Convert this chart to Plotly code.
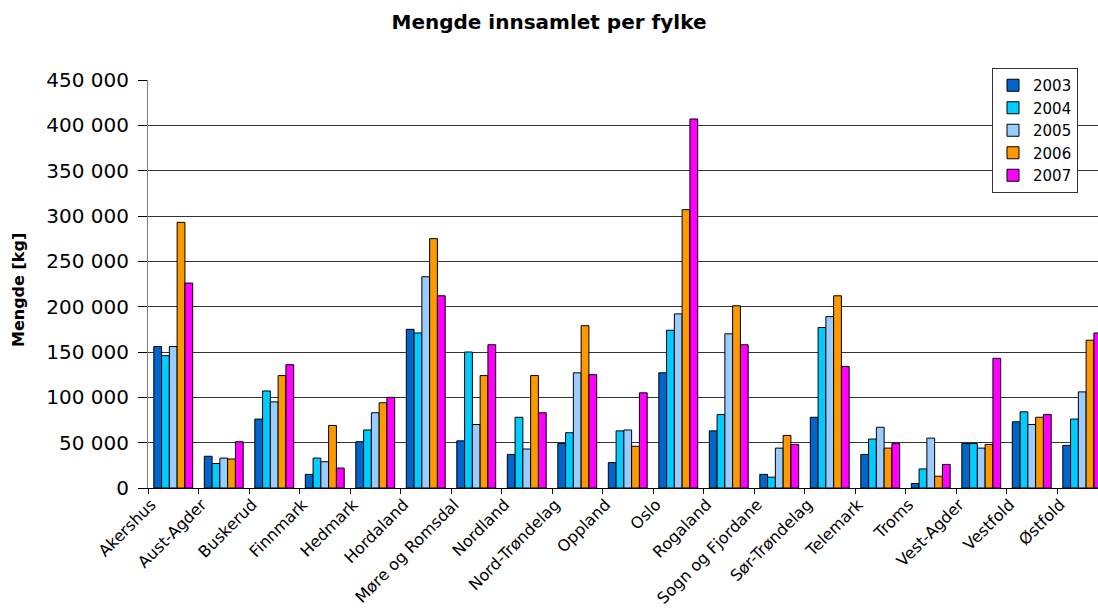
import plotly.graph_objects as go

categories = ["Akershus", "Aust-Agder", "Buskerud", "Finnmark", "Hedmark", "Hordaland",
              "Møre og Romsdal", "Nordland", "Nord-Trøndelag", "Oppland", "Oslo", "Rogaland",
              "Sogn og Fjordane", "Sør-Trøndelag", "Telemark", "Troms", "Vest-Agder",
              "Vestfold", "Østfold"]

years = ["2003", "2004", "2005", "2006", "2007"]

v2003 = [156000, 35000, 76000, 15000, 51000, 175000, 52000, 37000, 49000, 28000,
         127000, 63000, 15000, 78000, 37000, 5000, 49000, 73000, 47000]
v2004 = [146000, 27000, 107000, 33000, 64000, 171000, 150000, 78000, 61000, 63000,
         174000, 81000, 12000, 177000, 54000, 21000, 49000, 84000, 76000]
v2005 = [156000, 33000, 95000, 29000, 83000, 233000, 70000, 43000, 127000, 64000,
         192000, 170000, 44000, 189000, 67000, 55000, 44000, 70000, 106000]
v2006 = [293000, 32000, 124000, 69000, 94000, 275000, 124000, 124000, 179000, 46000,
         307000, 201000, 58000, 212000, 44000, 13000, 48000, 78000, 163000]
v2007 = [226000, 51000, 136000, 22000, 100000, 212000, 158000, 83000, 125000, 105000,
         407000, 158000, 48000, 134000, 49000, 26000, 143000, 81000, 171000]

series = [v2003, v2004, v2005, v2006, v2007]
colors = ["#0066CC", "#00CCFF", "#99CCFF", "#FF9900", "#FF00FF"]

yticks = [0, 50000, 100000, 150000, 200000, 250000, 300000, 350000, 400000, 450000]
ytick_text = ["0", "50 000", "100 000", "150 000", "200 000", "250 000", "300 000",
              "350 000", "400 000", "450 000"]

FONT = "DejaVu Sans"

fig = go.Figure()
for yr, vals, col in zip(years, series, colors):
    fig.add_trace(go.Bar(
        name=yr, x=categories, y=vals, legendgroup=yr,
        marker=dict(color=col, line=dict(color="black", width=1)),
    ))

W, H = 1098, 614
ml, mr, mt, mb = 148, 0, 80, 126
pw = W - ml - mr
ph = H - mt - mb

fig.update_layout(
    width=W, height=H,
    margin=dict(l=ml, r=mr, t=mt, b=mb, autoexpand=False),
    paper_bgcolor="white", plot_bgcolor="white",
    barmode="group", bargap=0.23, bargroupgap=0,
    font=dict(family=FONT, color="black"),
    title=dict(text="<b>Mengde innsamlet per fylke</b>", x=0.5, xanchor="center",
               y=1 - 22 / H, yanchor="middle", yref="container",
               font=dict(size=20, family=FONT, color="black")),
    legend=dict(x=(1078 - ml) / pw, y=(H - mb - 68) / ph, xanchor="right", yanchor="top",
                bgcolor="white", bordercolor="#333333", borderwidth=1,
                font=dict(size=15, family=FONT), tracegroupgap=3,
                traceorder="normal", itemwidth=30),
    xaxis=dict(range=[-0.5, -0.5 + pw / 50.5], tickangle=-45, tickson="boundaries",
               ticks="outside", ticklen=5, tickcolor="black", showline=True,
               linecolor="black", linewidth=1, showgrid=False, automargin=False,
               ticklabelshift=-22,
               tickfont=dict(size=16, family=FONT)),
    yaxis=dict(range=[0, 450000], tickvals=yticks, ticktext=ytick_text,
               ticks="outside", ticklen=9, tickcolor="black", showline=True,
               linecolor="#808080", linewidth=1, showgrid=True, gridcolor="#333333",
               gridwidth=1, zeroline=False, ticklabelstandoff=5, automargin=False,
               tickfont=dict(size=20, family=FONT)),
    annotations=[dict(text="<b>Mengde [kg]</b>", xref="paper", yref="paper",
                      x=(18 - ml) / pw, y=(H - mb - 290) / ph, xanchor="center",
                      yanchor="middle", textangle=-90, showarrow=False,
                      font=dict(size=16, family=FONT, color="black"))],
)

fig.write_html("out.html", config={"displayModeBar": False},
               post_script="document.body.style.margin='0';document.body.style.overflow='hidden';")
